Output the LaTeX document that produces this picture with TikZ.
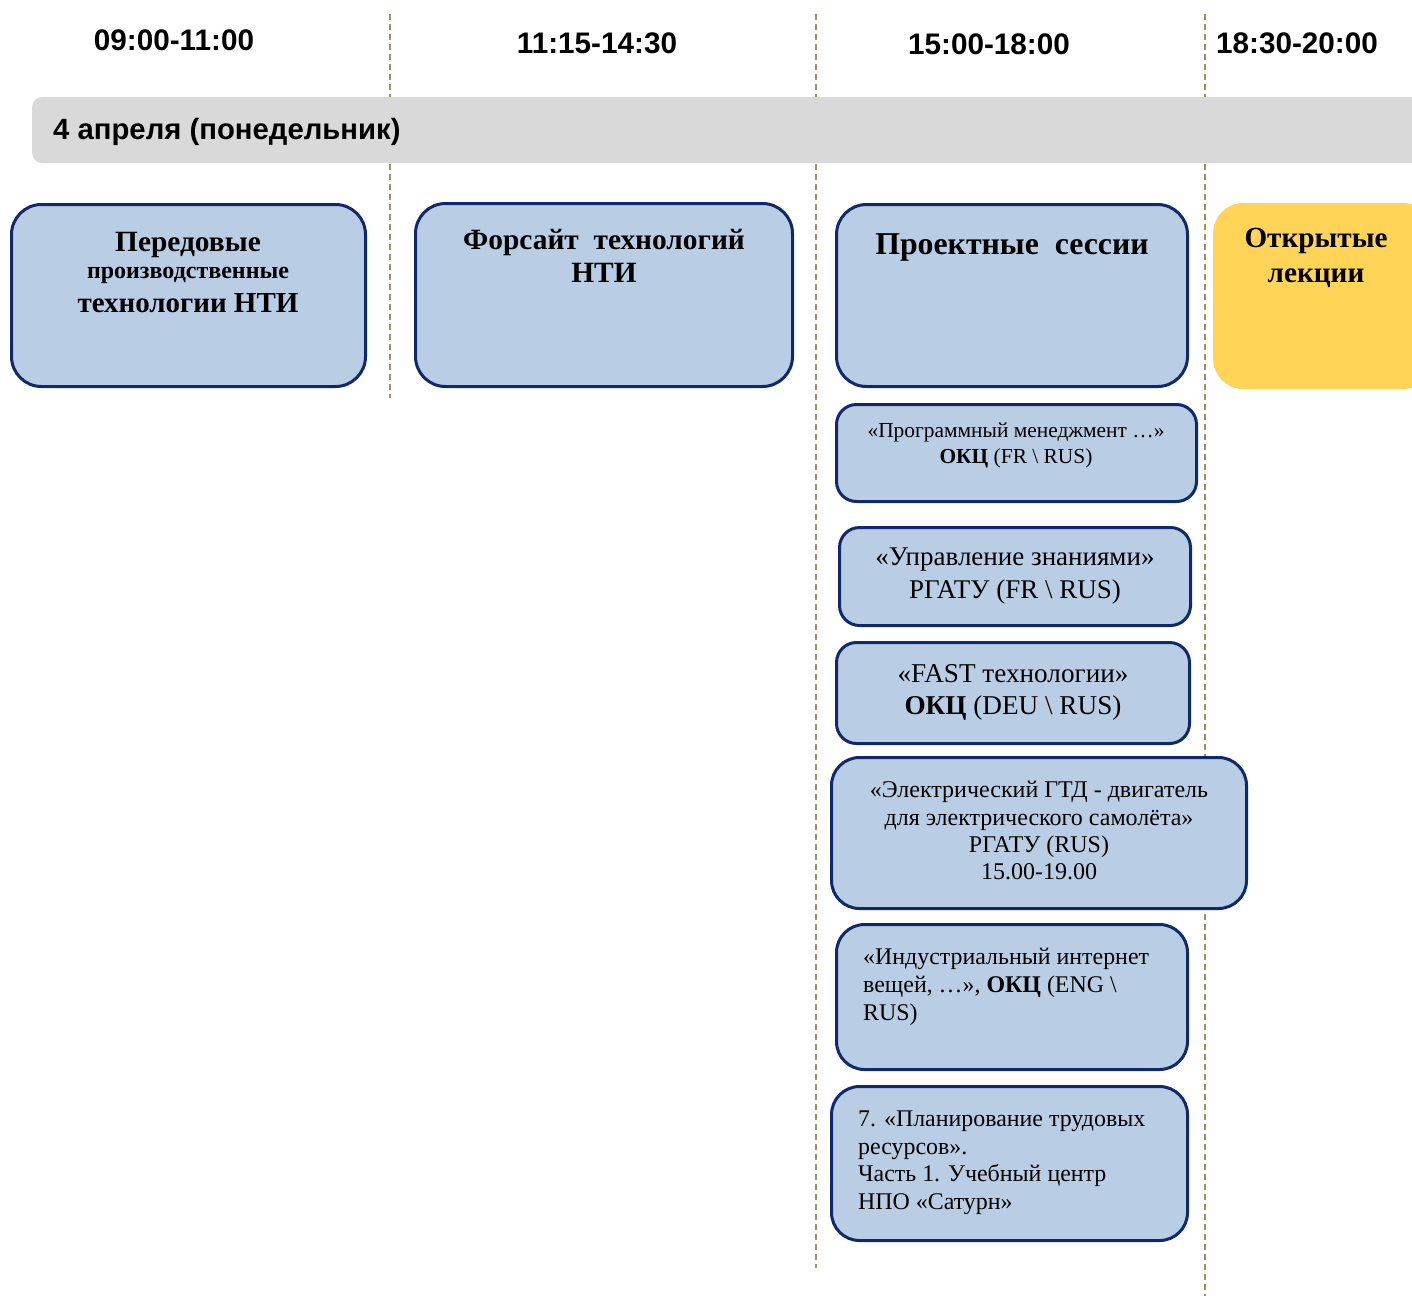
\documentclass[tikz,border=0pt]{standalone}
\usepackage{fontspec}
\setmainfont{Liberation Serif}
\newfontfamily\hdrfont{Liberation Sans}
\definecolor{boxfill}{HTML}{B9CDE5}
\definecolor{boxline}{HTML}{10296A}
\definecolor{lectfill}{HTML}{FFD457}
\definecolor{barfill}{HTML}{D9D9D9}
\definecolor{dashcol}{HTML}{A09260}
\newcommand{\bs}{\textbackslash}
\begin{document}
\begin{tikzpicture}[x=1pt,y=-1pt,
  box/.style={draw=boxline, line width=3pt, fill=boxfill, inner sep=0pt},
  sep/.style={draw=dashcol, line width=2pt, dash pattern=on 6pt off 4pt},
  hdr/.style={font=\hdrfont\bfseries\fontsize{29.7}{34}\selectfont, anchor=base, inner sep=0pt},
  ln/.style={anchor=base, inner sep=0pt},
  lnl/.style={anchor=base west, inner sep=0pt}]
\useasboundingbox (0,0) rectangle (1412,1302);
\clip (0,0) rectangle (1412,1302);
% separators
\coordinate (s1a) at (390,14); \coordinate (s1b) at (390,398);
\coordinate (s2a) at (816,14); \coordinate (s2b) at (816,1268);
\coordinate (s3a) at (1205,14); \coordinate (s3b) at (1205,1296);
\draw[sep] (s1a) -- (s1b);
\draw[sep] (s2a) -- (s2b);
\draw[sep] (s3a) -- (s3b);
% time headers
\node[hdr] (h1) at (174,50) {09:00-11:00};
\node[hdr] (h2) at (597,53) {11:15-14:30};
\node[hdr] (h3) at (989,54) {15:00-18:00};
\node[hdr] (h4) at (1297,53) {18:30-20:00};
% day bar
\node[fill=barfill, rounded corners=10pt, minimum width=1420pt, minimum height=66pt, inner sep=0pt, anchor=west] (bar) at (32,130) {};
\node[font=\hdrfont\bfseries\fontsize{29.3}{34}\selectfont, anchor=base west, inner sep=0pt] (day) at (53,139) {4 апреля (понедельник)};
% top boxes
\node[box, rounded corners=30pt, minimum width=354pt, minimum height=182pt] (b1) at (188.5,295.5) {};
\node[ln, font=\bfseries\fontsize{29.4}{33}\selectfont] (t1a) at (188,251) {Передовые};
\node[ln, font=\bfseries\fontsize{24}{28}\selectfont] (t1b) at (188,278) {производственные};
\node[ln, font=\bfseries\fontsize{29}{33}\selectfont] (t1c) at (188,312) {технологии НТИ};

\node[box, rounded corners=30pt, minimum width=377pt, minimum height=183pt] (b2) at (604,295) {};
\node[ln, font=\bfseries\fontsize{29.4}{33}\selectfont] (t2a) at (604,249) {Форсайт\ \ технологий};
\node[ln, font=\bfseries\fontsize{29.4}{33}\selectfont] (t2b) at (604,282) {НТИ};

\node[box, rounded corners=30pt, minimum width=351pt, minimum height=182pt] (b3) at (1012,295.5) {};
\node[ln, font=\bfseries\fontsize{31.8}{36}\selectfont] (t3) at (1012,254) {Проектные\ \ сессии};

\node[fill=lectfill, rounded corners=30pt, minimum width=220pt, minimum height=186pt, inner sep=0pt, anchor=west] (b4) at (1213,296) {};
\node[ln, font=\bfseries\fontsize{29.2}{33}\selectfont] (t4a) at (1316,247) {Открытые};
\node[ln, font=\bfseries\fontsize{29.2}{33}\selectfont] (t4b) at (1316,282) {лекции};
% session boxes
\node[box, rounded corners=20pt, minimum width=360pt, minimum height=97pt] (b5) at (1016.5,453) {};
\node[ln, font=\fontsize{21.4}{25}\selectfont] (t5a) at (1016,437) {«Программный менеджмент …»};
\node[ln, font=\fontsize{21.4}{25}\selectfont] (t5b) at (1016,463) {\textbf{ОКЦ} (FR \bs\ RUS)};

\node[box, rounded corners=20pt, minimum width=351pt, minimum height=98pt] (b6) at (1015,576.5) {};
\node[ln, font=\fontsize{27}{31}\selectfont] (t6a) at (1015,565) {«Управление знаниями»};
\node[ln, font=\fontsize{27}{31}\selectfont] (t6b) at (1015,598) {РГАТУ (FR \bs\ RUS)};

\node[box, rounded corners=20pt, minimum width=353pt, minimum height=101pt] (b7) at (1013,693) {};
\node[ln, font=\fontsize{27.2}{31}\selectfont] (t7a) at (1013,682) {«FAST технологии»};
\node[ln, font=\fontsize{27.2}{31}\selectfont] (t7b) at (1013,714) {\textbf{ОКЦ} (DEU \bs\ RUS)};

\node[box, rounded corners=28pt, minimum width=415pt, minimum height=151pt] (b8) at (1039,833) {};
\node[ln, font=\fontsize{24}{28}\selectfont] (t8a) at (1039,797) {«Электрический ГТД - двигатель};
\node[ln, font=\fontsize{24}{28}\selectfont] (t8b) at (1039,825) {для электрического самолёта»};
\node[ln, font=\fontsize{24}{28}\selectfont] (t8c) at (1039,852) {РГАТУ (RUS)};
\node[ln, font=\fontsize{24}{28}\selectfont] (t8d) at (1039,879) {15.00-19.00};

\node[box, rounded corners=28pt, minimum width=351pt, minimum height=145pt] (b9) at (1012,997) {};
\node[lnl, font=\fontsize{23.9}{28}\selectfont] (t9a) at (863,964) {«Индустриальный интернет};
\node[lnl, font=\fontsize{23.9}{28}\selectfont] (t9b) at (863,992) {вещей, …», \textbf{ОКЦ} (ENG \bs};
\node[lnl, font=\fontsize{23.9}{28}\selectfont] (t9c) at (863,1020) {RUS)};

\node[box, rounded corners=28pt, minimum width=356pt, minimum height=154pt] (b10) at (1009.5,1163.5) {};
\node[lnl, font=\fontsize{23.9}{28}\selectfont] (t10a) at (858,1126) {7. «Планирование трудовых};
\node[lnl, font=\fontsize{23.9}{28}\selectfont] (t10b) at (858,1154) {ресурсов».};
\node[lnl, font=\fontsize{23.9}{28}\selectfont] (t10c) at (858,1181) {Часть 1. Учебный центр};
\node[lnl, font=\fontsize{23.9}{28}\selectfont] (t10d) at (858,1209) {НПО «Сатурн»};
\end{tikzpicture}
\end{document}
